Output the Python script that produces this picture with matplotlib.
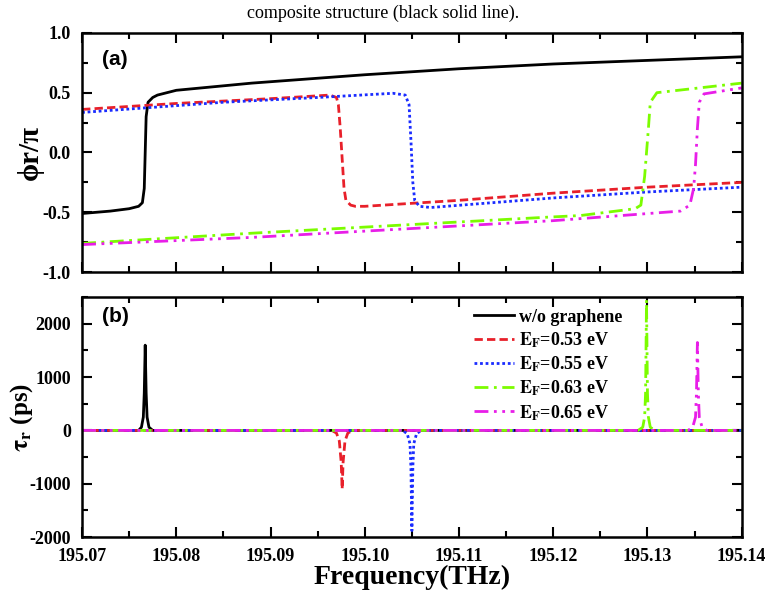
import matplotlib
matplotlib.use("Agg")
import matplotlib.pyplot as plt
from matplotlib.ticker import MultipleLocator, FormatStrFormatter

plt.rcParams['font.family'] = ['Liberation Serif', 'DejaVu Serif']
plt.rcParams['font.weight'] = 'bold'
plt.rcParams['mathtext.fontset'] = 'stix'
plt.rcParams['axes.unicode_minus'] = False

# phase (a): frequency points and phi_r/pi
f_black_ph = [195.070, 195.073, 195.075, 195.076, 195.0764, 195.0766, 195.0767, 195.0768,
              195.0770, 195.0775, 195.078, 195.080, 195.088, 195.100, 195.110, 195.120, 195.130, 195.140]
ph_black = [-0.51, -0.49, -0.47, -0.45, -0.42, -0.30, 0.0, 0.30,
            0.42, 0.46, 0.48, 0.52, 0.58, 0.65, 0.70, 0.74, 0.77, 0.80]

f_red_ph = [195.070, 195.080, 195.090, 195.0963, 195.0970, 195.0972, 195.0974, 195.0976,
            195.0978, 195.0980, 195.0985, 195.0990, 195.100, 195.110, 195.120, 195.130, 195.140]
ph_red = [0.36, 0.41, 0.45, 0.48, 0.46, 0.40, 0.20, -0.05,
          -0.30, -0.40, -0.44, -0.45, -0.45, -0.40, -0.34, -0.29, -0.25]

f_blue_ph = [195.070, 195.085, 195.095, 195.103, 195.1043, 195.1047, 195.1049, 195.1051,
             195.1053, 195.1058, 195.107, 195.120, 195.130, 195.140]
ph_blue = [0.335, 0.42, 0.46, 0.495, 0.48, 0.40, 0.10, -0.25,
           -0.40, -0.45, -0.46, -0.38, -0.33, -0.29]

f_green_ph = [195.070, 195.088, 195.1196, 195.1229, 195.1287, 195.1293, 195.1297, 195.1299,
              195.1301, 195.1303, 195.1310, 195.140]
ph_green = [-0.76, -0.675, -0.54, -0.527, -0.47, -0.44, -0.20, 0.0,
            0.20, 0.42, 0.50, 0.58]

f_mag_ph = [195.070, 195.088, 195.120, 195.1335, 195.1345, 195.1349, 195.1351, 195.1353,
            195.1355, 195.1360, 195.140]
ph_mag = [-0.77, -0.71, -0.57, -0.49, -0.44, -0.30, -0.10, 0.20,
          0.42, 0.49, 0.54]

# group delay (b): frequency points and tau_r in ps
f_black_tau = [195.070, 195.0760, 195.0763, 195.0765, 195.0766, 195.0767, 195.0768,
               195.0769, 195.0771, 195.0775, 195.140]
tau_black = [0, 0, 60, 250, 700, 1600, 700, 250, 60, 0, 0]

f_red_tau = [195.070, 195.0965, 195.0970, 195.0973, 195.0975, 195.0976, 195.0977,
             195.0979, 195.0982, 195.0987, 195.140]
tau_red = [0, 0, -50, -200, -600, -1100, -600, -200, -50, 0, 0]

f_blue_tau = [195.070, 195.1040, 195.1045, 195.1048, 195.1049, 195.1050, 195.1051,
              195.1052, 195.1055, 195.1060, 195.140]
tau_blue = [0, 0, -60, -250, -700, -1880, -700, -250, -60, 0, 0]

f_green_tau = [195.070, 195.1290, 195.1295, 195.1297, 195.1298, 195.1299, 195.1300,
               195.1301, 195.1303, 195.1308, 195.140]
tau_green = [0, 0, 60, 250, 700, 2450, 700, 250, 60, 0, 0]

f_mag_tau = [195.070, 195.1343, 195.1348, 195.1351, 195.1352, 195.1353, 195.1354,
             195.1355, 195.1358, 195.1363, 195.140]
tau_mag = [0, 0, 60, 250, 700, 1650, 700, 250, 60, 0, 0]

labels = ['w/o graphene', r'$\mathbf{E_F}$=0.53 eV', r'$\mathbf{E_F}$=0.55 eV',
          r'$\mathbf{E_F}$=0.63 eV', r'$\mathbf{E_F}$=0.65 eV']
colors = ['black', '#e8202a', '#1a2cff', '#7cfc00', '#e81ee8']
styles = ['-', (0, (3, 1.5)), (0, (1, 1)), (0, (5, 2, 1, 2)), (0, (5, 2, 1, 2, 1, 2))]

fig = plt.figure(figsize=(7.67, 5.98), dpi=100)
ax1 = fig.add_axes([0.107, 0.545, 0.860, 0.400])
ax2 = fig.add_axes([0.107, 0.102, 0.860, 0.401])

phase_data = [(f_black_ph, ph_black), (f_red_ph, ph_red), (f_blue_ph, ph_blue),
              (f_green_ph, ph_green), (f_mag_ph, ph_mag)]
tau_data = [(f_black_tau, tau_black), (f_red_tau, tau_red), (f_blue_tau, tau_blue),
            (f_green_tau, tau_green), (f_mag_tau, tau_mag)]

for i in range(5):
    ax1.plot(phase_data[i][0], phase_data[i][1], color=colors[i], ls=styles[i], lw=2)
    ax2.plot(tau_data[i][0], tau_data[i][1], color=colors[i], ls=styles[i], lw=2,
             label=labels[i])

for ax in (ax1, ax2):
    ax.set_xlim(195.07, 195.14)
    ax.xaxis.set_major_locator(MultipleLocator(0.01))
    ax.xaxis.set_minor_locator(MultipleLocator(0.005))
    ax.tick_params(which='both', direction='in', top=True, right=True, width=1.5)
    ax.tick_params(which='major', length=7, labelsize=13)
    ax.tick_params(which='minor', length=4)
    ax.tick_params(axis='x', pad=8)
    ax.tick_params(axis='y', pad=8)
    for s in ax.spines.values():
        s.set_linewidth(1.8)
    for t in ax.get_xticklabels() + ax.get_yticklabels():
        t.set_fontweight('bold')

ax1.set_ylim(-1.0, 1.0)
ax1.yaxis.set_major_locator(MultipleLocator(0.5))
ax1.yaxis.set_minor_locator(MultipleLocator(0.25))
ax1.yaxis.set_major_formatter(FormatStrFormatter('%.1f'))
ax1.tick_params(labelbottom=False)
ax1.set_ylabel('ϕr/π', fontsize=21, fontweight='bold')
ax1.yaxis.set_label_coords(-0.058, 0.5)
ax1.text(0.03, 0.93, '(a)', transform=ax1.transAxes, fontsize=15, fontweight='bold',
         family='Liberation Sans', va='top')

ax2.set_ylim(-2000, 2500)
ax2.yaxis.set_major_locator(MultipleLocator(1000))
ax2.yaxis.set_minor_locator(MultipleLocator(500))
ax2.xaxis.set_major_formatter(FormatStrFormatter('%.2f'))
ax2.set_ylabel(r'$\mathbf{\tau_r}$ (ps)', fontsize=18, fontweight='bold')
ax2.yaxis.set_label_coords(-0.072, 0.5)
ax2.set_xlabel('Frequency(THz)', fontsize=20, fontweight='bold', labelpad=0)
ax2.text(0.03, 0.96, '(b)', transform=ax2.transAxes, fontsize=15, fontweight='bold',
         family='Liberation Sans', va='top')
ax2.legend(loc='upper left', bbox_to_anchor=(0.57, 1.02), frameon=False,
           prop={'size': 13, 'weight': 'bold'}, handlelength=2.2, labelspacing=0.25,
           handletextpad=0.3)

fig.text(0.5, 0.978, 'composite structure (black solid line).', ha='center', va='center',
         fontsize=13, fontweight='normal')

fig.savefig('out.png', dpi=100)
